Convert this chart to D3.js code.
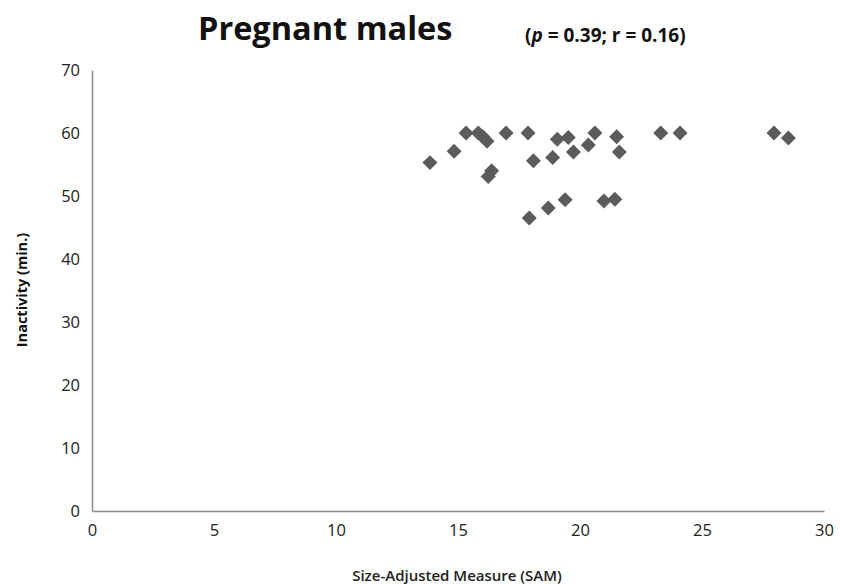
<!DOCTYPE html>
<html>
<head>
<meta charset="utf-8">
<script src="https://cdn.jsdelivr.net/npm/d3@7"></script>
<style>
  body { margin: 0; background: #fff; }
  svg { display: block; font-family: "Open Sans", sans-serif; }
</style>
</head>
<body>
<svg id="chart" width="843" height="585"></svg>
<script>
// size-adjusted measure (x) and inactivity in minutes (y)
const sam = [13.85, 14.84, 15.33, 15.83, 16.02, 16.19, 16.97, 17.87, 16.38, 16.24,
             19.07, 19.52, 19.73, 20.34, 20.61, 18.09, 18.88, 21.5, 21.61, 17.92,
             18.7, 19.39, 20.98, 21.43, 23.31, 24.1, 27.95, 28.54];
const inactivity = [55.3, 57.1, 60, 60, 59.4, 58.7, 60, 60, 54.0, 53.1,
                    59.0, 59.3, 57.0, 58.1, 60, 55.6, 56.1, 59.4, 57.0, 46.5,
                    48.1, 49.4, 49.2, 49.5, 60, 60, 60, 59.2];
const xTicks = [0, 5, 10, 15, 20, 25, 30];
const yTicks = [0, 10, 20, 30, 40, 50, 60, 70];

const margin = { top: 70, right: 19, bottom: 74, left: 92 };

const svg = d3.select("#chart");
const g = svg.append("g").attr("transform", `translate(${margin.left},${margin.top})`);

const x = d3.scaleLinear().domain([0, 30]).range([0, 732]);
const y = d3.scaleLinear().domain([0, 70]).range([441, 0]);

// axes, Excel style: plain grey lines, no tick marks
const xAxis = g.append("g")
  .attr("transform", `translate(0,${y(0)})`)
  .call(d3.axisBottom(x).tickValues(xTicks).tickSize(0).tickPadding(13));
const yAxis = g.append("g")
  .call(d3.axisLeft(y).tickValues(yTicks).tickSize(0).tickPadding(12));

[xAxis, yAxis].forEach(a => {
  a.select(".domain").attr("stroke", "#8a8a8a").attr("stroke-width", 1.5);
  a.selectAll("text").attr("font-size", "16.5px").attr("fill", "#222")
    .attr("font-family", "Open Sans, sans-serif");
});

const pts = sam.map((v, i) => ({ x: v, y: inactivity[i] }));

g.selectAll(".pt")
  .data(pts)
  .join("path")
  .attr("class", "pt")
  .attr("d", d3.symbol(d3.symbolSquare, 112))
  .attr("transform", d => `translate(${x(d.x)},${y(d.y)}) rotate(45)`)
  .attr("fill", "#5b5b5b");

// titles
svg.append("text")
  .attr("x", 198).attr("y", 40)
  .attr("font-size", "32.5px").attr("font-weight", "bold").attr("fill", "#111")
  .text("Pregnant males");

const sub = svg.append("text")
  .attr("x", 525).attr("y", 42)
  .attr("font-size", "19px").attr("font-weight", "bold").attr("fill", "#111");
sub.append("tspan").text("(");
sub.append("tspan").attr("font-style", "italic").text("p");
sub.append("tspan").text(" = 0.39; r = 0.16)");

svg.append("text")
  .attr("transform", "translate(27,290) rotate(-90)")
  .attr("text-anchor", "middle")
  .attr("font-size", "14.5px").attr("font-weight", "bold").attr("fill", "#111")
  .text("Inactivity (min.)");

svg.append("text")
  .attr("x", 457).attr("y", 581)
  .attr("text-anchor", "middle")
  .attr("font-size", "15px").attr("font-weight", "600").attr("fill", "#222")
  .text("Size-Adjusted Measure (SAM)");
</script>
</body>
</html>
